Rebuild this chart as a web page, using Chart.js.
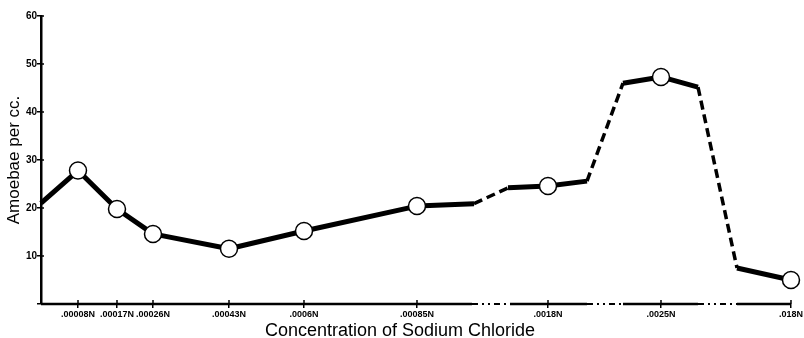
<!DOCTYPE html>
<html>
<head>
<meta charset="utf-8">
<script src="https://cdn.jsdelivr.net/npm/chart.js@4"></script>
<style>
  html, body { margin: 0; padding: 0; background: white; }
  canvas { display: block; }
</style>
</head>
<body>
<canvas id="chart" width="804" height="338"></canvas>
<script>
// Positions along the broken concentration axis (axis units, 0 = y axis).
const positions = [0, 37, 76, 112, 188, 263, 376, 433, 467, 507, 546, 582, 620, 657, 696, 750];
// Amoebae per cc. at each vertex of the drawn curve.
const amoebae = [21, 27.8, 19.8, 14.6, 11.5, 15.2, 20.4, 20.9, 24.2, 24.6, 25.6, 46.0, 47.3, 45.2, 7.5, 5.0];
// Which vertices are actual samples (drawn with an open circle).
const sampled = [false, true, true, true, true, true, true, false, false, true, false, false, true, false, false, true];
// Segments (by starting vertex) that are drawn dashed.
const dashedSegments = [7, 10, 13];

// Concentration tick labels and where they sit on the axis.
const tickPositions = [37, 76, 112, 188, 263, 376, 507, 620, 750];
const tickLabels = ['.00008N', '.00017N', '.00026N', '.00043N', '.0006N', '.00085N', '.0018N', '.0025N', '.018N'];

// Breaks in the x axis line, and which pieces are broken.
const axisBreaks = [0, 431, 469, 546, 582, 657, 696, 750];
const axisDashedSegments = [1, 3, 5];

const X_TITLE = 'Concentration of Sodium Chloride';
const FONT = "'Liberation Sans', Arial, sans-serif";

// Small stubs of the ticks that reach inside the chart area, plus the x title,
// which sits a little left of the plot's centre in the original.
const extras = {
    id: 'extras',
    afterDraw(chart) {
        const ctx = chart.ctx;
        const x = chart.scales.x, y = chart.scales.y;
        ctx.save();
        ctx.strokeStyle = 'black';
        ctx.lineWidth = 1.5;
        ctx.beginPath();
        y.ticks.forEach(function(t) {
            if (t.value === 0) {
                return;
            }
            const py = y.getPixelForValue(t.value);
            ctx.moveTo(x.left, py);
            ctx.lineTo(x.left + 3, py);
        });
        tickPositions.forEach(function(v) {
            const px = x.getPixelForValue(v);
            ctx.moveTo(px, y.bottom);
            ctx.lineTo(px, y.bottom - 4);
        });
        ctx.stroke();

        ctx.fillStyle = 'black';
        ctx.font = '18px ' + FONT;
        ctx.textAlign = 'center';
        ctx.textBaseline = 'alphabetic';
        ctx.fillText(X_TITLE, (x.left + x.right) / 2 - 16, 336);
        ctx.restore();
    }
};

const ctx = document.getElementById('chart').getContext('2d');
new Chart(ctx, {
    type: 'line',
    data: {
        datasets: [{
            data: positions.map((p, i) => ({x: p, y: amoebae[i]})),
            borderColor: 'black',
            borderWidth: 5,
            borderJoinStyle: 'round',
            pointRadius: sampled.map(s => s ? 8.5 : 0),
            pointBackgroundColor: 'white',
            pointBorderColor: 'black',
            pointBorderWidth: 1.5,
            clip: false,
            order: 0,
            segment: {
                borderDash: c => dashedSegments.includes(c.p0DataIndex) ? [9, 5] : undefined,
                borderWidth: c => dashedSegments.includes(c.p0DataIndex) ? 3.5 : undefined,
            },
        }, {
            data: axisBreaks.map(p => ({x: p, y: 0})),
            borderColor: 'black',
            borderWidth: 2.5,
            pointRadius: 0,
            clip: false,
            order: 1,
            segment: {
                borderDash: c => axisDashedSegments.includes(c.p0DataIndex) ? [6, 4, 2, 4, 2, 4] : undefined,
                borderWidth: c => axisDashedSegments.includes(c.p0DataIndex) ? 2 : undefined,
            },
        }]
    },
    options: {
        responsive: false,
        animation: false,
        layout: {
            padding: {top: 16, right: 13, left: 0, bottom: 0},
        },
        plugins: {
            legend: {display: false},
            tooltip: {enabled: false},
        },
        scales: {
            x: {
                type: 'linear',
                min: 0,
                max: 750,
                afterFit: s => { s.height = 34; },
                afterBuildTicks: s => { s.ticks = tickPositions.map(v => ({value: v})); },
                border: {display: false},
                grid: {
                    drawOnChartArea: false,
                    drawTicks: true,
                    tickLength: 4,
                    color: 'black',
                    lineWidth: 1.5,
                },
                ticks: {
                    autoSkip: false,
                    maxRotation: 0,
                    padding: 1,
                    color: 'black',
                    font: {family: FONT, size: 9, weight: 'bold'},
                    callback: (v, i) => tickLabels[i],
                },
            },
            y: {
                min: 0,
                max: 60,
                afterFit: s => { s.width = 41; },
                border: {display: true, color: 'black', width: 2.5},
                grid: {
                    drawOnChartArea: false,
                    drawTicks: true,
                    tickLength: 4,
                    color: 'black',
                    lineWidth: 1.5,
                },
                ticks: {
                    stepSize: 10,
                    padding: 0,
                    color: 'black',
                    font: {family: FONT, size: 10, weight: 'bold'},
                    callback: v => v === 0 ? '' : v,
                },
                title: {
                    display: true,
                    text: 'Amoebae per cc.',
                    color: 'black',
                    padding: {top: 6, bottom: 0},
                    font: {family: FONT, size: 17, lineHeight: 1},
                },
            },
        },
    },
    plugins: [extras],
});
</script>
</body>
</html>
